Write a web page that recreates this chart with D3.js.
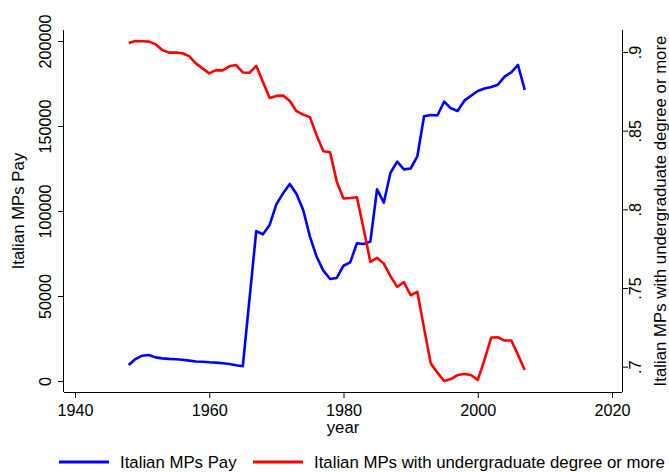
<!DOCTYPE html>
<html>
<head>
<meta charset="utf-8">
<script src="https://cdnjs.cloudflare.com/ajax/libs/d3/7.8.5/d3.min.js"></script>
<style>
  html, body { margin: 0; padding: 0; background: #fff; }
  svg { display: block; }
  text { font-family: "Liberation Sans", Arial, sans-serif; fill: #000; }
</style>
</head>
<body>
<svg id="chart" width="669" height="472"></svg>
<script>
const years = d3.range(1948, 2008);
const pay = [
  9400, 12900, 14900, 15300, 13900, 13300, 13000, 12800, 12500, 12000,
  11500, 11300, 11000, 10800, 10400, 10000, 9300, 8700, null, 88200,
  86300, 91800, 104000, 110400, 115900, 110000, 100600, 84900, 73100, 64900,
  60000, 60600, 67800, 69800, 81000, 80600, 82000, 112800, 104900, 122500,
  129000, 124500, 125000, 132200, 155700, 156500, 156300, 164300, 160400, 158800,
  164900, 167800, 170600, 172000, 172900, 174300, 179000, 181600, 185900, 171200
];
const edu = [
  0.9058, 0.9070, 0.9068, 0.9066, 0.9050, 0.9013, 0.8996, 0.8996, 0.8992, 0.8974,
  0.8928, 0.8896, 0.8864, 0.8885, 0.8883, 0.8909, 0.8917, 0.8870, 0.8868, 0.8912,
  0.8810, 0.8708, 0.8721, 0.8723, 0.8689, 0.8624, 0.8602, 0.8586, 0.8470, 0.8369,
  0.8363, 0.8176, 0.8069, 0.8072, 0.8077, 0.7875, 0.7666, 0.7692, 0.7655, 0.7575,
  0.7507, 0.7538, 0.7454, 0.7475, 0.7245, 0.7021, 0.6962, 0.6909, 0.6921, 0.6947,
  0.6953, 0.6947, 0.6915, 0.7043, 0.7185, 0.7187, 0.7166, 0.7166, 0.7075, 0.6979
];
const xTicks = [1940, 1960, 1980, 2000, 2020];
const leftTicks = [0, 50000, 100000, 150000, 200000];
const rightTicks = [0.7, 0.75, 0.8, 0.85, 0.9];
const rightTickLabels = [".7", ".75", ".8", ".85", ".9"];
const seriesNames = ["Italian MPs Pay", "Italian MPs with undergraduate degree or more"];
const seriesColors = ["#0000ff", "#ff0000"];
const xTitle = "year";
const leftTitle = "Italian MPs Pay";
const rightTitle = "Italian MPs with undergraduate degree or more";

const svg = d3.select("#chart");
const frame = { left: 64, right: 622, top: 30, bottom: 392 };
const pad = 11;
const fs = 16.2;
const fsTitle = 16.8;

const x = d3.scaleLinear()
  .domain([d3.min([d3.min(years), d3.min(xTicks)]), d3.max([d3.max(years), d3.max(xTicks)])])
  .range([frame.left + pad, frame.right - 10]);
const yL = d3.scaleLinear()
  .domain([Math.min(d3.min(pay), d3.min(leftTicks)), Math.max(d3.max(pay), d3.max(leftTicks))])
  .range([frame.bottom - pad, frame.top + pad]);
const yR = d3.scaleLinear()
  .domain([Math.min(d3.min(edu), d3.min(rightTicks)), Math.max(d3.max(edu), d3.max(rightTicks))])
  .range([frame.bottom - pad, frame.top + pad]);

// Axes
const xAxis = d3.axisBottom(x).tickValues(xTicks).tickSize(6).tickSizeOuter(0).tickFormat(d3.format("d"));
const gx = svg.append("g").attr("transform", `translate(0,${frame.bottom})`).call(xAxis);
gx.select(".domain").attr("d", `M${frame.left},0.5H${frame.right}`);
gx.selectAll("text").attr("font-size", fs).attr("dy", null).attr("y", 23.5);

const lAxis = d3.axisLeft(yL).tickValues(leftTicks).tickSize(6).tickSizeOuter(0).tickFormat(d3.format("d"));
const gl = svg.append("g").attr("transform", `translate(${frame.left},0)`).call(lAxis);
gl.select(".domain").attr("d", `M-0.5,${frame.top}V${frame.bottom}`);
gl.selectAll(".tick text")
  .attr("font-size", fs)
  .attr("x", null).attr("dy", null)
  .attr("text-anchor", "middle")
  .attr("transform", "translate(-13,0) rotate(-90)");

const rAxis = d3.axisRight(yR).tickValues(rightTicks).tickSize(6).tickSizeOuter(0)
  .tickFormat((d, i) => rightTickLabels[i]);
const gr = svg.append("g").attr("transform", `translate(${frame.right},0)`).call(rAxis);
gr.select(".domain").attr("d", `M0.5,${frame.top}V${frame.bottom}`);
gr.selectAll(".tick text")
  .attr("font-size", fs)
  .attr("x", null).attr("dy", null)
  .attr("text-anchor", "middle")
  .attr("transform", "translate(19,0) rotate(-90)");

svg.selectAll(".domain, .tick line").attr("stroke", "#000").attr("stroke-width", 1);

// Axis titles
svg.append("text").attr("x", (frame.left + frame.right) / 2).attr("y", 433)
  .attr("text-anchor", "middle").attr("font-size", fsTitle).text(xTitle);
svg.append("text")
  .attr("transform", `translate(24,${(frame.top + frame.bottom) / 2}) rotate(-90)`)
  .attr("text-anchor", "middle").attr("font-size", fsTitle).text(leftTitle);
svg.append("text")
  .attr("transform", `translate(666,${(frame.top + frame.bottom) / 2}) rotate(-90)`)
  .attr("text-anchor", "middle").attr("font-size", fsTitle).text(rightTitle);

// Lines
const payData = years.map((yr, i) => ({ yr, v: pay[i] })).filter(d => d.v != null);
const eduData = years.map((yr, i) => ({ yr, v: edu[i] })).filter(d => d.v != null);

svg.append("path").datum(payData)
  .attr("fill", "none").attr("stroke", seriesColors[0]).attr("stroke-width", 2.6)
  .attr("stroke-linejoin", "round")
  .attr("d", d3.line().x(d => x(d.yr)).y(d => yL(d.v)));
svg.append("path").datum(eduData)
  .attr("fill", "none").attr("stroke", seriesColors[1]).attr("stroke-width", 2.6)
  .attr("stroke-linejoin", "round")
  .attr("d", d3.line().x(d => x(d.yr)).y(d => yR(d.v)));

// Legend
const legendItems = [
  { name: seriesNames[0], color: seriesColors[0], x0: 59 },
  { name: seriesNames[1], color: seriesColors[1], x0: 253 }
];
const lg = svg.append("g");
legendItems.forEach(it => {
  lg.append("line").attr("x1", it.x0).attr("x2", it.x0 + 50)
    .attr("y1", 462).attr("y2", 462)
    .attr("stroke", it.color).attr("stroke-width", 3);
  lg.append("text").attr("x", it.x0 + 61).attr("y", 468)
    .attr("font-size", fsTitle).text(it.name);
});
</script>
</body>
</html>
